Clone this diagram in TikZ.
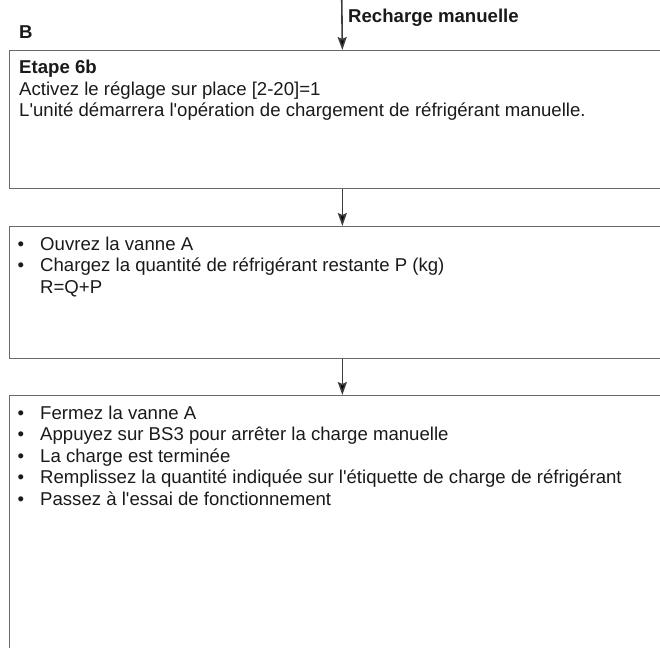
\documentclass[tikz,border=0pt]{standalone}
\usepackage{fontspec}
\setmainfont{Liberation Sans}[Ligatures=TeXOff]
\usetikzlibrary{arrows.meta}
\definecolor{boxgray}{HTML}{6A6A6A}
\definecolor{arrgray}{HTML}{3C3C3C}
\definecolor{txt}{HTML}{1A1A1A}
\begin{document}
\begin{tikzpicture}[x=1pt,y=-1pt,
  flowbox/.style={draw=boxgray, line width=1.3pt, anchor=north west, inner sep=0pt,
    minimum width=665.4pt},
  txtline/.style={anchor=base west, inner sep=0pt, text=txt,
    font=\fontsize{18.6}{21.5}\selectfont},
  boldline/.style={txtline, font=\fontsize{18.6}{21.5}\selectfont\bfseries},
  flowarrow/.style={draw=arrgray, line width=1.6pt,
    -{Stealth[length=13pt,width=9pt,inset=2pt,fill=black]}}
]
\useasboundingbox (0,0) rectangle (660,647);
\clip (0,0) rectangle (660,647);

% boxes
\node[flowbox, minimum height=138pt] (b1) at (9,50) {};
\node[flowbox, minimum height=132pt] (b2) at (9,226) {};
\node[flowbox, minimum height=300pt] (b3) at (9,395) {};

% labels above
\coordinate (top) at (341.7,-5);
\node[boldline] (lblB) at (19,39) {B};
\node[boldline] (lblR) at (348,23) {Recharge manuelle};

% connectors
\draw[flowarrow] (top) -- (b1.north);
\draw[flowarrow] (b1.south) -- (b2.north);
\draw[flowarrow] (b2.south) -- (b3.north);

% box 1 text
\node[boldline] (t1a) at (19,74) {Etape 6b};
\node[txtline] (t1b) at (19,95.5) {Activez le réglage sur place [2-20]=1};
\node[txtline] (t1c) at (19,117) {L'unité démarrera l'opération de chargement de réfrigérant manuelle.};

% box 2 text
\node[txtline] (u2a) at (17.5,250) {•};
\node[txtline] (t2a) at (40,250) {Ouvrez la vanne A};
\node[txtline] (u2b) at (17.5,271.5) {•};
\node[txtline] (t2b) at (40,271.5) {Chargez la quantité de réfrigérant restante P (kg)};
\node[txtline] (t2c) at (40,293) {R=Q+P};

% box 3 text
\node[txtline] (u3a) at (17.5,419) {•};
\node[txtline] (t3a) at (40,419) {Fermez la vanne A};
\node[txtline] (u3b) at (17.5,440.5) {•};
\node[txtline] (t3b) at (40,440.5) {Appuyez sur BS3 pour arrêter la charge manuelle};
\node[txtline] (u3c) at (17.5,462) {•};
\node[txtline] (t3c) at (40,462) {La charge est terminée};
\node[txtline] (u3d) at (17.5,483.5) {•};
\node[txtline] (t3d) at (40,483.5) {Remplissez la quantité indiquée sur l'étiquette de charge de réfrigérant};
\node[txtline] (u3e) at (17.5,505) {•};
\node[txtline] (t3e) at (40,505) {Passez à l'essai de fonctionnement};
\end{tikzpicture}
\end{document}
